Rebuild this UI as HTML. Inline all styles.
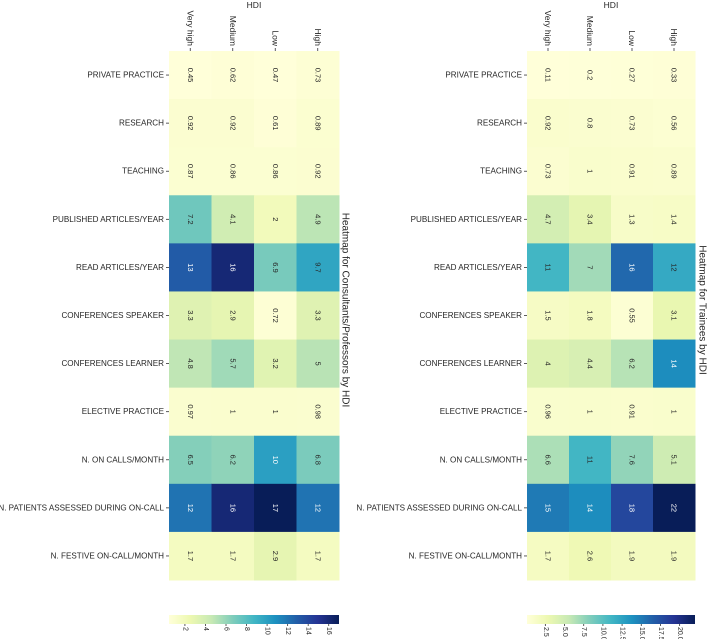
<!DOCTYPE html>
<html><head><meta charset="utf-8"><style>
html,body{margin:0;padding:0;background:#fff;}
svg{display:block;font-family:"Liberation Sans","DejaVu Sans",sans-serif;}
</style></head><body>
<svg id="chart" width="708" height="639" viewBox="0 0 708 639"></svg>
<script>
const rows = ["PRIVATE PRACTICE","RESEARCH","TEACHING","PUBLISHED ARTICLES/YEAR","READ ARTICLES/YEAR","CONFERENCES SPEAKER","CONFERENCES LEARNER","ELECTIVE PRACTICE","N. ON CALLS/MONTH","N. PATIENTS ASSESSED DURING ON-CALL","N. FESTIVE ON-CALL/MONTH"];
const cols = ["Very high","Medium","Low","High"];
const consultants = [[0.45,0.62,0.47,0.73],[0.92,0.92,0.61,0.89],[0.87,0.86,0.86,0.92],[7.2,4.1,2,4.9],[13,16,6.9,9.7],[3.3,2.9,0.72,3.3],[4.8,5.7,3.2,5],[0.97,1,1,0.98],[6.5,6.2,10,6.8],[12,16,17,12],[1.7,1.7,2.9,1.7]];
const trainees = [[0.11,0.2,0.27,0.33],[0.92,0.8,0.73,0.56],[0.73,1,0.91,0.89],[4.7,3.4,1.3,1.4],[11,7,16,12],[1.5,1.8,0.55,3.1],[4,4.4,6.2,14],[0.96,1,0.91,1],[6.6,11,7.6,5.1],[15,14,18,22],[1.7,2.6,1.9,1.9]];
const ticksLeft = [2,4,6,8,10,12,14,16];
const ticksRight = ["2.5","5.0","7.5","10.0","12.5","15.0","17.5","20.0"];

const stops=["#ffffd9","#edf8b1","#c7e9b4","#7fcdbb","#41b6c4","#1d91c0","#225ea8","#253494","#081d58"].map(h=>[1,3,5].map(i=>parseInt(h.substr(i,2),16)));
function cmap(t){t=Math.max(0,Math.min(1,t));const p=t*8,i=Math.min(7,Math.floor(p)),f=p-i;return stops[i].map((v,k)=>Math.round(v+(stops[i+1][k]-v)*f));}
const NS="http://www.w3.org/2000/svg";const svg=document.getElementById('chart');
function mk(tag,attrs,parent){const e=document.createElementNS(NS,tag);for(const k in attrs)e.setAttribute(k,attrs[k]);(parent||svg).appendChild(e);return e;}

function heatmap(data,x0,x1,y0,y1,ticks,title,prefix,titleX,titleY){
  const g=mk('g',{});
  
  
  const flat=data.flat();const mn=Math.min(...flat),mx=Math.max(...flat);
  const cw=(x1-x0)/cols.length,rh=(y1-y0)/rows.length;
  const xs=c=>x0+c*cw, ys=r=>y0+r*rh, norm=v=>(v-mn)/(mx-mn);
  data.forEach((row,r)=>row.forEach((v,c)=>{
    const col=cmap(norm(v));
    const rect=mk('rect',{x:xs(c),y:ys(r),width:cw+0.5,height:rh+0.5,fill:`rgb(${col})`},g);
    
    
    const lum=(0.299*col[0]+0.587*col[1]+0.114*col[2]);
    const cx=xs(c)+cw/2,cy=ys(r)+rh/2;
    const t=mk('text',{x:cx,y:cy,'font-size':7.5,fill:lum<130?'#fff':'#262626','text-anchor':'middle','dominant-baseline':'central',transform:`rotate(90 ${cx} ${cy})`},g);
    t.textContent=String(v);
    
    
  }));
  rows.forEach((lab,r)=>{
    const cy=ys(r)+rh/2;
    mk('line',{x1:x0-3,x2:x0,y1:cy,y2:cy,stroke:'#333','stroke-width':0.8},g);
    const t=mk('text',{x:x0-5,y:cy,'font-size':8.1,fill:'#262626','text-anchor':'end','dominant-baseline':'central'},g);
    t.textContent=lab;
    
    
  });
  cols.forEach((lab,c)=>{
    const cx=xs(c)+cw/2;
    mk('line',{x1:cx,x2:cx,y1:y0-3,y2:y0,stroke:'#333','stroke-width':0.8},g);
    const t=mk('text',{x:cx,y:y0-5,'font-size':8.5,fill:'#262626','text-anchor':'end','dominant-baseline':'central',transform:`rotate(90 ${cx} ${y0-5})`},g);
    t.textContent=lab;
    
    
  });
  const ht=mk('text',{x:(x0+x1)/2,y:8,'font-size':8.5,fill:'#262626','text-anchor':'middle'},g);
  ht.textContent='HDI';
  
  
  const tt=mk('text',{x:titleX,y:titleY,'font-size':10,fill:'#262626','text-anchor':'middle','dominant-baseline':'central',transform:`rotate(90 ${titleX} ${titleY})`},g);
  tt.textContent=title;
  
  
  const cb=mk('g',{},g);
  
  
  const gid=prefix+'grad';
  const defs=mk('defs',{},cb);const lg=mk('linearGradient',{id:gid,x1:0,x2:1,y1:0,y2:0},defs);
  for(let i=0;i<=16;i++)mk('stop',{offset:i/16,'stop-color':`rgb(${cmap(i/16)})`},lg);
  const cy0=615,cy1=624;
  mk('rect',{x:x0,y:cy0,width:x1-x0,height:cy1-cy0,fill:`url(#${gid})`},cb);
  const cbx=v=>x0+(v-mn)/(mx-mn)*(x1-x0);
  ticks.forEach(tv=>{
    const px=cbx(parseFloat(tv));
    mk('line',{x1:px,x2:px,y1:cy1,y2:cy1+2,stroke:'#333','stroke-width':0.8},cb);
    const t=mk('text',{x:px,y:cy1+3,'font-size':7,fill:'#262626','text-anchor':'start','dominant-baseline':'central',transform:`rotate(90 ${px} ${cy1+3})`},cb);
    t.textContent=tv;
    
    
  });
}
heatmap(consultants,169,339,51,580,ticksLeft,'Heatmap for Consultants/Professors by HDI','consultants',345,310);
heatmap(trainees,527,695,51,580,ticksRight,'Heatmap for Trainees by HDI','trainees',702,310);
</script>
</body></html>
